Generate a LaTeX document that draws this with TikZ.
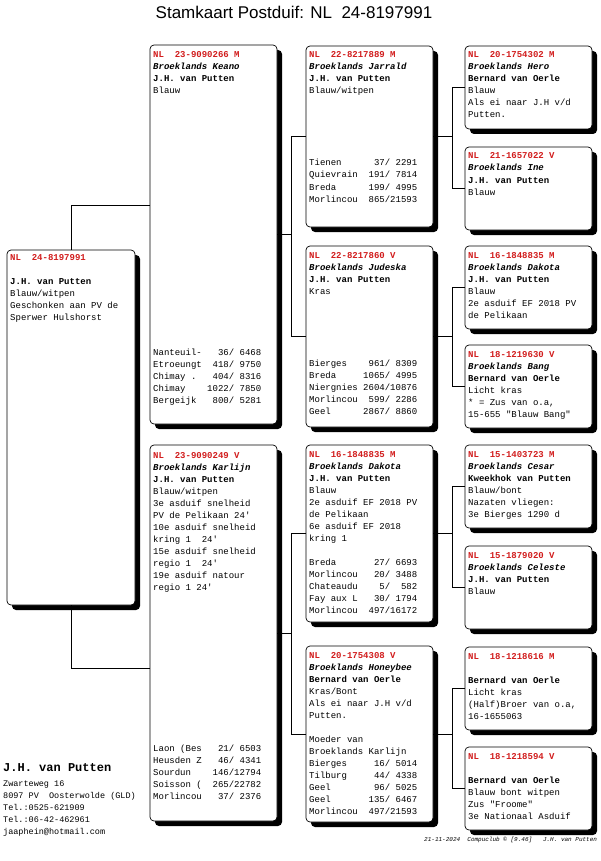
\documentclass[tikz,border=0pt]{standalone}
\usepackage{fontspec}
\usetikzlibrary{calc,positioning}
\setmainfont{Liberation Sans}
\newfontfamily\mono{Liberation Mono}
\definecolor{ringrood}{RGB}{210,30,30}

\newcommand{\ringf}{\bfseries\color{ringrood}}
\newcommand{\naamf}{\bfseries\itshape}
\newcommand{\fokf}{\bfseries}

\tikzset{
  kaart/.style={draw, fill=white, rounded corners=4pt, line width=0.7pt, anchor=north west, inner sep=0pt, outer sep=0pt},
  schaduw/.style={fill=black, rounded corners=4pt},
  regel/.style={anchor=base west, inner sep=0pt, font=\mono\fontsize{9}{12}\selectfont},
  titel/.style={anchor=base, inner sep=0pt, font=\fontsize{17}{20}\selectfont},
  lijn/.style={line width=0.7pt},
}

% kaart met schaduw: naam, x, y, breedte, hoogte
\newcommand{\duif}[5]{%
  \fill[schaduw] (#2+5,#3+5) rectangle ++(#4,#5);
  \node[kaart, minimum width=#4pt, minimum height=#5pt] (#1) at (#2,#3) {};}
% tekstregels: naam, x, eerste basislijn, regels
\newcommand{\regels}[4]{%
  \foreach \r [count=\i from 0] in {#4} {\node[regel] (#1-\i) at (#2,{#3+12*\i}) {\r};}}

\begin{document}
\begin{tikzpicture}[x=1pt,y=-1pt]
  \fill[white] (0,0) rectangle (600,861);
  \useasboundingbox (0,0) rectangle (600,861);

  % Titel
  \node[titel] (kop) at (294,19) {Stamkaart Postduif: NL~~24-8197991};

  % Kaarten
  \duif{p0}{7}{250}{128}{355}
  \duif{p1a}{150}{45}{127}{379}
  \duif{p1b}{150}{445}{127}{376}
  \duif{p2a}{306}{46}{127}{181}
  \duif{p2b}{306}{246}{127}{181}
  \duif{p2c}{306}{445}{127}{177}
  \duif{p2d}{306}{646}{127}{176}
  \duif{p3a}{465}{46}{127}{83}
  \duif{p3b}{465}{147}{127}{83}
  \duif{p3c}{465}{246}{127}{83}
  \duif{p3d}{465}{345}{127}{83}
  \duif{p3e}{465}{445}{127}{83}
  \duif{p3f}{465}{546}{127}{83}
  \duif{p3g}{465}{647}{127}{83}
  \duif{p3h}{465}{747}{127}{83}

  % Lijnen
  \draw[lijn] (p0.north) |- ($(p1a.north west)+(0,160)$);
  \draw[lijn] (p0.south) |- ($(p1b.north west)+(0,223)$);
  \draw[lijn] (p2a.west) -- ++(-15,0) coordinate (v1a) |- (p2b.west);
  \draw[lijn] (p1a.east) -- (p1a.east -| v1a);
  \draw[lijn] (p2c.west) -- ++(-15,0) coordinate (v1b) |- (p2d.west);
  \draw[lijn] (p1b.east) -- (p1b.east -| v1b);
  \draw[lijn] (p3a.west) -- ++(-13,0) coordinate (v2a) |- (p3b.west);
  \draw[lijn] (p2a.east) -- (p2a.east -| v2a);
  \draw[lijn] (p3c.west) -- ++(-13,0) coordinate (v2b) |- (p3d.west);
  \draw[lijn] (p2b.east) -- (p2b.east -| v2b);
  \draw[lijn] (p3e.west) -- ++(-13,0) coordinate (v2c) |- (p3f.west);
  \draw[lijn] (p2c.east) -- (p2c.east -| v2c);
  \draw[lijn] (p3g.west) -- ++(-13,0) coordinate (v2d) |- (p3h.west);
  \draw[lijn] (p2d.east) -- (p2d.east -| v2d);

  % Teksten
  \regels{t0}{10}{260}{{\ringf NL~~24-8197991},{},{\fokf J.H. van Putten},{Blauw/witpen},{Geschonken aan PV de},{Sperwer Hulshorst}}

  \regels{t1a}{153}{58}{{\ringf NL~~23-9090266~M},{\naamf Broeklands Keano},{\fokf J.H. van Putten},Blauw}
  \regels{r1a}{153}{355}{{Nanteuil-~~~36/~6468},{Etroeungt~~418/~9750},{Chimay~.~~~404/~8316},{Chimay~~~~1022/~7850},{Bergeijk~~~800/~5281}}

  \regels{t1b}{153}{458}{{\ringf NL~~23-9090249~V},{\naamf Broeklands Karlijn},{\fokf J.H. van Putten},{Blauw/witpen},{3e asduif snelheid},{PV de Pelikaan 24'},{10e asduif snelheid},{kring 1~~24'},{15e asduif snelheid},{regio 1~~24'},{19e asduif natour},{regio 1 24'}}
  \regels{r1b}{153}{751}{{Laon~(Bes~~~21/~6503},{Heusden~Z~~~46/~4341},{Sourdun~~~~146/12794},{Soisson~(~~265/22782},{Morlincou~~~37/~2376}}

  \regels{t2a}{309}{58}{{\ringf NL~~22-8217889~M},{\naamf Broeklands Jarrald},{\fokf J.H. van Putten},{Blauw/witpen}}
  \regels{r2a}{309}{166}{{Tienen~~~~~~37/~2291},{Quievrain~~191/~7814},{Breda~~~~~~199/~4995},{Morlincou~~865/21593}}

  \regels{t2b}{309}{258}{{\ringf NL~~22-8217860~V},{\naamf Broeklands Judeska},{\fokf J.H. van Putten},Kras}
  \regels{r2b}{309}{366}{{Bierges~~~~961/~8309},{Breda~~~~~1065/~4995},{Niergnies~2604/10876},{Morlincou~~599/~2286},{Geel~~~~~~2867/~8860}}

  \regels{t2c}{309}{457}{{\ringf NL~~16-1848835~M},{\naamf Broeklands Dakota},{\fokf J.H. van Putten},Blauw,{2e asduif EF 2018 PV},{de Pelikaan},{6e asduif EF 2018},{kring 1},{},{Breda~~~~~~~27/~6693},{Morlincou~~~20/~3488},{Chateaudu~~~~5/~~582},{Fay~aux~L~~~30/~1794},{Morlincou~~497/16172}}

  \regels{t2d}{309}{658}{{\ringf NL~~20-1754308~V},{\naamf Broeklands Honeybee},{\fokf Bernard van Oerle},{Kras/Bont},{Als ei naar J.H v/d},{Putten.},{},{Moeder van},{Broeklands Karlijn},{Bierges~~~~~16/~5014},{Tilburg~~~~~44/~4338},{Geel~~~~~~~~96/~5025},{Geel~~~~~~~135/~6467},{Morlincou~~497/21593}}

  \regels{t3a}{468}{58}{{\ringf NL~~20-1754302~M},{\naamf Broeklands Hero},{\fokf Bernard van Oerle},Blauw,{Als ei naar J.H v/d},{Putten.}}
  \regels{t3b}{468}{159}{{\ringf NL~~21-1657022~V},{\naamf Broeklands Ine},{\fokf J.H. van Putten},Blauw}
  \regels{t3c}{468}{258}{{\ringf NL~~16-1848835~M},{\naamf Broeklands Dakota},{\fokf J.H. van Putten},Blauw,{2e asduif EF 2018 PV},{de Pelikaan}}
  \regels{t3d}{468}{357}{{\ringf NL~~18-1219630~V},{\naamf Broeklands Bang},{\fokf Bernard van Oerle},{Licht kras},{* = Zus van o.a,},{15-655 "Blauw Bang"}}
  \regels{t3e}{468}{457}{{\ringf NL~~15-1403723~M},{\naamf Broeklands Cesar},{\fokf Kweekhok van Putten},{Blauw/bont},{Nazaten vliegen:},{3e Bierges 1290 d}}
  \regels{t3f}{468}{558}{{\ringf NL~~15-1879020~V},{\naamf Broeklands Celeste},{\fokf J.H. van Putten},Blauw}
  \regels{t3g}{468}{659}{{\ringf NL~~18-1218616~M},{},{\fokf Bernard van Oerle},{Licht kras},{(Half)Broer van o.a,},{16-1655063}}
  \regels{t3h}{468}{759}{{\ringf NL~~18-1218594~V},{},{\fokf Bernard van Oerle},{Blauw bont witpen},{Zus "Froome"},{3e Nationaal Asduif}}

  % Eigenaar
  \node[regel, font=\mono\bfseries\fontsize{12}{14}\selectfont] (eig) at (3,771) {J.H. van Putten};
  \foreach \r [count=\i from 0] in {{Zwarteweg 16},{8097 PV~~Oosterwolde (GLD)},{Tel.:0525-621909},{Tel.:06-42-462961},{jaaphein@hotmail.com}}
    {\node[regel, font=\mono\fontsize{8.5}{12}\selectfont] (adr-\i) at (3,{786+12*\i}) {\r};}

  % Voetregel
  \node[regel, font=\mono\itshape\fontsize{6}{7}\selectfont] (voet) at (424,841) {21-11-2024~~Compuclub © [9.46]~~~J.H. van Putten};
\end{tikzpicture}
\end{document}
